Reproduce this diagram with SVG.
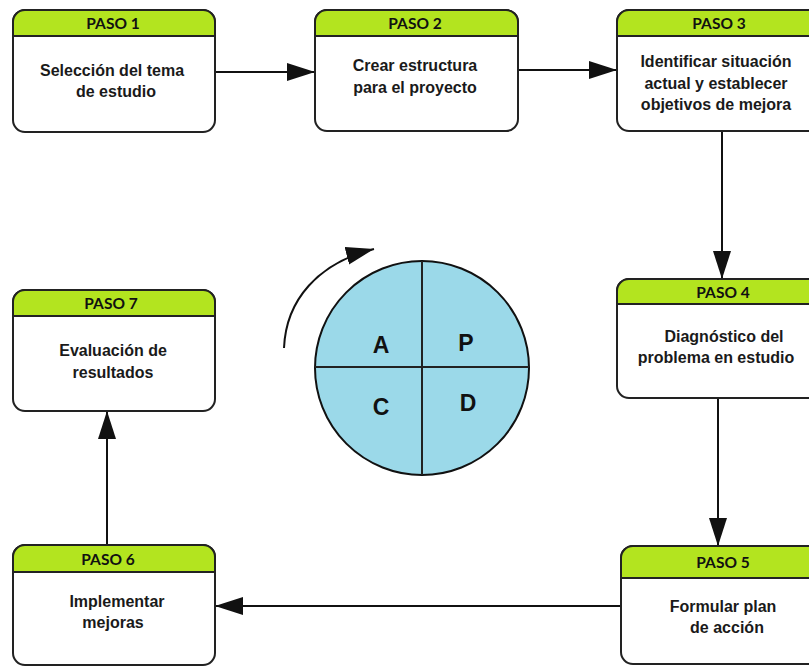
<svg xmlns="http://www.w3.org/2000/svg" width="809" height="666" viewBox="0 0 809 666">
<defs>
<marker id="ah" markerUnits="userSpaceOnUse" markerWidth="30" markerHeight="20" refX="28" refY="9" orient="auto">
<path d="M0,0 L28,9 L0,18 Z" fill="#111"/>
</marker>
<style>
.box{fill:#fff;stroke:#222;stroke-width:2}
.hdr{fill:#b3e41f;stroke:#222;stroke-width:2}
.ph{font-family:Lato,"Open Sans",sans-serif;font-weight:bold;font-size:15.5px;fill:#111;text-anchor:middle}
.tx{font-family:"Liberation Sans",Arial,sans-serif;font-weight:bold;font-size:16px;fill:#1a1a1a;text-anchor:middle}
.cn{stroke:#111;stroke-width:2;fill:none}
.pd{font-family:"Liberation Sans",Arial,sans-serif;font-weight:bold;font-size:23px;fill:#111;text-anchor:middle}
</style>
</defs>
<rect width="809" height="666" fill="#fff"/>

<g id="connectors">
<line class="cn" x1="215" y1="72" x2="315" y2="72" marker-end="url(#ah)"/>
<line class="cn" x1="518" y1="70" x2="617" y2="70" marker-end="url(#ah)"/>
<line class="cn" x1="722" y1="131" x2="722" y2="279" marker-end="url(#ah)"/>
<line class="cn" x1="718" y1="398" x2="718" y2="546" marker-end="url(#ah)"/>
<line class="cn" x1="621" y1="606" x2="215" y2="606" marker-end="url(#ah)"/>
<line class="cn" x1="107" y1="545" x2="107" y2="411" marker-end="url(#ah)"/>
<path class="cn" d="M284,348 C286,300 318,263 374,249" stroke-width="2.5" marker-end="url(#ah)"/>
</g>

<g id="paso1">
<rect class="box" x="13" y="10" width="202" height="122" rx="12"/>
<path class="hdr" d="M13,36 V22 A12,12 0 0 1 25,10 H203 A12,12 0 0 1 215,22 V36 Z"/>
<text class="ph" x="113" y="29">PASO 1</text>
<text class="tx" x="112" y="76">Selección del tema</text>
<text class="tx" x="116" y="97">de estudio</text>
</g>

<g id="paso2">
<rect class="box" x="315" y="10" width="203" height="121" rx="12"/>
<path class="hdr" d="M315,36 V22 A12,12 0 0 1 327,10 H506 A12,12 0 0 1 518,22 V36 Z"/>
<text class="ph" x="415" y="29">PASO 2</text>
<text class="tx" x="415" y="71">Crear estructura</text>
<text class="tx" x="415" y="93">para el proyecto</text>
</g>

<g id="paso3">
<rect class="box" x="617" y="10" width="203" height="121" rx="12"/>
<path class="hdr" d="M617,36 V22 A12,12 0 0 1 629,10 H808 A12,12 0 0 1 820,22 V36 Z"/>
<text class="ph" x="719" y="29">PASO 3</text>
<text class="tx" x="716" y="67">Identificar situación</text>
<text class="tx" x="716" y="89">actual y establecer</text>
<text class="tx" x="716" y="110">objetivos de mejora</text>
</g>

<g id="paso4">
<rect class="box" x="617" y="279" width="203" height="119" rx="12"/>
<path class="hdr" d="M617,304 V291 A12,12 0 0 1 629,279 H808 A12,12 0 0 1 820,291 V304 Z"/>
<text class="ph" x="723" y="298">PASO 4</text>
<text class="tx" x="724" y="342">Diagnóstico del</text>
<text class="tx" x="716" y="363">problema en estudio</text>
</g>

<g id="paso5">
<rect class="box" x="621" y="546" width="203" height="118" rx="12"/>
<path class="hdr" d="M621,578 V558 A12,12 0 0 1 633,546 H812 A12,12 0 0 1 824,558 V578 Z"/>
<text class="ph" x="723" y="568">PASO 5</text>
<text class="tx" x="723" y="612">Formular plan</text>
<text class="tx" x="727" y="633">de acción</text>
</g>

<g id="paso6">
<rect class="box" x="13" y="545" width="202" height="120" rx="12"/>
<path class="hdr" d="M13,572 V557 A12,12 0 0 1 25,545 H203 A12,12 0 0 1 215,557 V572 Z"/>
<text class="ph" x="108" y="565">PASO 6</text>
<text class="tx" x="117" y="607">Implementar</text>
<text class="tx" x="113" y="628">mejoras</text>
</g>

<g id="paso7">
<rect class="box" x="13" y="290" width="202" height="121" rx="12"/>
<path class="hdr" d="M13,316 V302 A12,12 0 0 1 25,290 H203 A12,12 0 0 1 215,302 V316 Z"/>
<text class="ph" x="111" y="309">PASO 7</text>
<text class="tx" x="113" y="356">Evaluación de</text>
<text class="tx" x="113" y="378">resultados</text>
</g>

<g id="pdca">
<circle cx="422" cy="368" r="107" fill="#9bd9e9" stroke="#111" stroke-width="2"/>
<line x1="422" y1="261" x2="422" y2="475" stroke="#222" stroke-width="2"/>
<line x1="315" y1="367" x2="529" y2="367" stroke="#222" stroke-width="2"/>
<text class="pd" x="381" y="353">A</text>
<text class="pd" x="466" y="351">P</text>
<text class="pd" x="381" y="415">C</text>
<text class="pd" x="468" y="411">D</text>
</g>
</svg>
